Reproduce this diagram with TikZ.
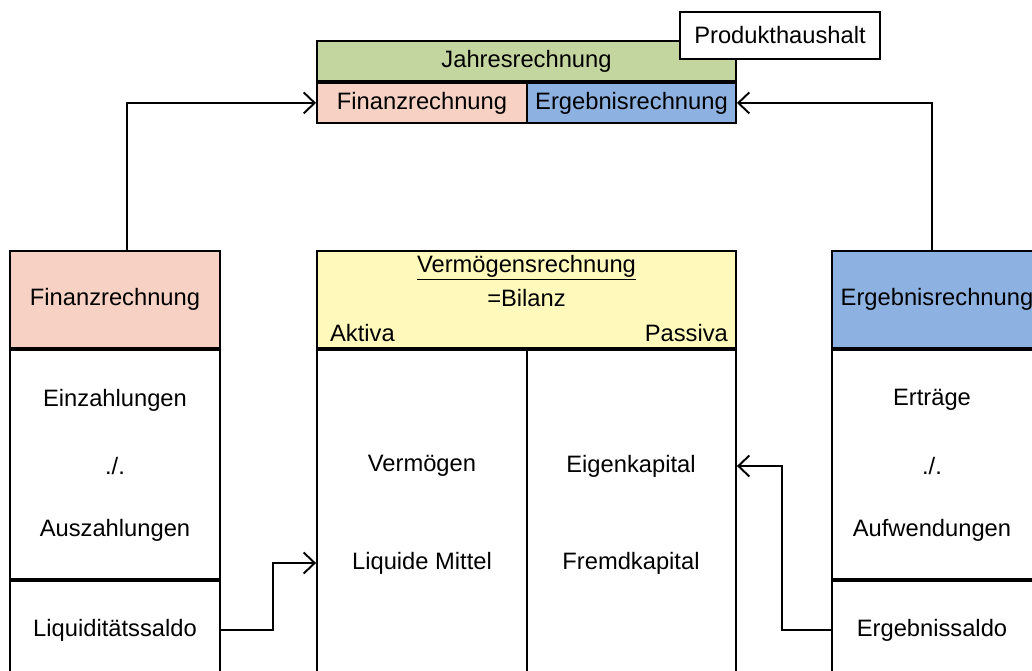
\documentclass[tikz,border=0pt]{standalone}
\usepackage{fontspec}
\setmainfont{Liberation Sans}
\usetikzlibrary{arrows.meta, positioning}
\definecolor{finpink}{RGB}{247,210,196}
\definecolor{erggreen}{RGB}{196,214,160}
\definecolor{ergblue}{RGB}{141,178,226}
\definecolor{bilyellow}{RGB}{255,250,188}
\tikzstyle{header} = [
	rectangle,
	minimum width=4.2cm,
	minimum height=1.94cm,
	text centered,
	draw=black,
	line width=1.1pt,
	inner sep=0pt
]
\tikzstyle{bodybox} = [
	rectangle,
	minimum width=4.2cm,
	draw=black,
	line width=1.1pt,
	fill=white,
	inner sep=0pt
]
\tikzstyle{topbox} = [
	rectangle,
	minimum height=0.8cm,
	text centered,
	draw=black,
	line width=1.1pt,
	inner sep=0pt
]
\tikzstyle{label} = [inner sep=1pt]
\tikzstyle{arrow} = [line width=1.1pt, ->, >={Straight Barb[length=2.2mm, width=4.2mm]}]

\begin{document}
\begin{tikzpicture}[x=0.02cm, y=-0.02cm, font=\fontsize{13.5}{16}\selectfont]
	\useasboundingbox (0,0) rectangle (1032,671);
	\clip (0,0) rectangle (1032,671);

	% Jahresrechnung oben
	\node (jahr) [topbox, fill=erggreen, minimum width=8.38cm] at (526.5,61) {Jahresrechnung};
	\node (topfin) [topbox, fill=finpink, minimum width=4.2cm, anchor=north west] at (jahr.south west) {Finanzrechnung};
	\node (toperg) [topbox, fill=ergblue, minimum width=4.18cm, anchor=north east] at (jahr.south east) {Ergebnisrechnung};
	\node (prod) [topbox, fill=white, minimum width=4cm, minimum height=0.94cm] at (780,35.5) {Produkthaushalt};

	% Finanzrechnung
	\node (fin) [header, fill=finpink] at (115,299.5) {Finanzrechnung};
	\node (finbody) [bodybox, below=0pt of fin, minimum height=4.58cm] {};
	\node (finsaldo) [bodybox, below=0pt of finbody, minimum height=2.2cm] {};
	\node (einz) [label] at (115,400) {Einzahlungen};
	\node (finminus) [label] at (115,466) {./.};
	\node (ausz) [label] at (115,530) {Auszahlungen};
	\node (liqs) [label] at (115,630) {Liquiditätssaldo};

	% Vermoegensrechnung
	\node (verm) [header, fill=bilyellow, minimum width=8.38cm] at (526.5,299.5) {};
	\node (vermtitle) [label] at (526.5,268) {\underline{Vermögensrechnung}};
	\node (bilanz) [label] at (526.5,298) {=Bilanz};
	\node (aktlabel) [label, anchor=west] at (328,333) {Aktiva};
	\node (paslabel) [label, anchor=east] at (730,333) {Passiva};
	\node (aktiv) [bodybox, minimum height=7cm, anchor=north west] at (verm.south west) {};
	\node (passiv) [bodybox, minimum width=4.18cm, minimum height=7cm, anchor=north east] at (verm.south east) {};
	\node (vermoegen) [label] at (422,466) {Vermögen};
	\node (liqm) [label] at (422,563) {Liquide Mittel};
	\node (eigk) [label] at (631,466) {Eigenkapital};
	\node (fremdk) [label] at (631,563) {Fremdkapital};

	% Ergebnisrechnung
	\node (erg) [header, fill=ergblue] at (937,299.5) {Ergebnisrechnung};
	\node (ergbody) [bodybox, below=0pt of erg, minimum height=4.58cm] {};
	\node (ergsaldo) [bodybox, below=0pt of ergbody, minimum height=2.2cm] {};
	\node (ertr) [label] at (932,400) {Erträge};
	\node (ergminus) [label] at (932,466) {./.};
	\node (aufw) [label] at (932,530) {Aufwendungen};
	\node (ergs) [label] at (932,630) {Ergebnissaldo};

	\draw [arrow] ([xshift=0.24cm]fin.north) |- (topfin.west);
	\draw [arrow] ([xshift=-0.1cm]erg.north) |- (toperg.east);
	\draw [arrow] (finsaldo.east |- liqs) -- ++(52,0) |- (aktiv.west |- liqm);
	\draw [arrow] (ergsaldo.west |- ergs) -- ++(-49,0) |- (passiv.east |- eigk);
\end{tikzpicture}
\end{document}
